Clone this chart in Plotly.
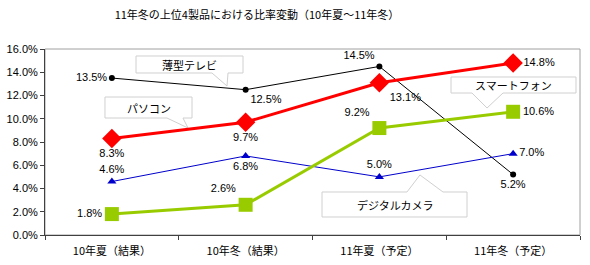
import plotly.graph_objects as go

categories = ["10年夏（結果）", "10年冬（結果）", "11年夏（予定）", "11年冬（予定）"]
tv = [13.5, 12.5, 14.5, 5.2]
pc = [8.3, 9.7, 13.1, 14.8]
camera = [4.6, 6.8, 5.0, 7.0]
smartphone = [1.8, 2.6, 9.2, 10.6]
y_ticks = [0, 2, 4, 6, 8, 10, 12, 14, 16]

W, H = 590, 265
L, R, T, B = 45, 580, 49, 235

def px(x):
    return (x - L) / (R - L)

def py(y):
    return (B - y) / (B - T)

font_main = "Liberation Sans, Arial, Noto Sans CJK JP"
fig = go.Figure()

def add(vals, name, color, width, symbol, size, pos):
    fig.add_trace(go.Scatter(
        x=categories, y=vals, name=name, mode="lines+markers+text",
        line=dict(color=color, width=width),
        marker=dict(symbol=symbol, size=size, color=color),
        text=[f"{v:.1f}%" for v in vals], textposition=pos,
        textfont=dict(size=11, color="#000000", family=font_main),
        hoverinfo="skip", cliponaxis=False))

add(tv, "薄型テレビ", "#000000", 1, "circle", 6,
    ["middle left", "bottom right", "top left", "bottom center"])
add(pc, "パソコン", "#FF0000", 3, "diamond", 15,
    ["bottom center", "bottom center", "bottom right", "middle right"])
add(camera, "デジタルカメラ", "#0000CC", 1, "triangle-up", 8,
    ["top center", "bottom center", "top center", "middle right"])
add(smartphone, "スマートフォン", "#99CC00", 3, "square", 14,
    ["middle left", "top left", "top left", "middle right"])

# callout bubbles: box (x0,y0,x1,y1), tail base on an edge (a,b) and tip
callouts = [
    ("薄型テレビ", (136, 56, 243, 73), "bottom", (212, 228), (227, 86)),
    ("パソコン", (105, 97, 192, 118), "bottom", (167, 183), (188, 128)),
    ("スマートフォン", (451, 77, 576, 93), "bottom", (472, 503), (487, 108)),
    ("デジタルカメラ", (322, 192, 467, 217), "top", (407, 443), (420, 175)),
]
shapes = []
annotations = []
for text, (x0, y0, x1, y1), edge, (a, b), (tx, ty) in callouts:
    if edge == "bottom":
        pts = [(x0, y0), (x1, y0), (x1, y1), (b, y1), (tx, ty), (a, y1), (x0, y1)]
    else:
        pts = [(x0, y0), (a, y0), (tx, ty), (b, y0), (x1, y0), (x1, y1), (x0, y1)]
    path = "M " + " L ".join(f"{px(x):.4f},{py(y):.4f}" for x, y in pts) + " Z"
    shapes.append(dict(type="path", xref="paper", yref="paper", path=path,
                       line=dict(color="#d0d0d0", width=1), fillcolor="white",
                       layer="below"))
    annotations.append(dict(text=text, xref="paper", yref="paper",
                            x=px((x0 + x1) / 2), y=py((y0 + y1) / 2),
                            showarrow=False, xanchor="center", yanchor="middle",
                            font=dict(size=11, color="#000000", family="Noto Sans CJK JP")))

# plot-area border (top/right gray)
shapes.append(dict(type="rect", xref="paper", yref="paper", x0=0, y0=0, x1=1, y1=1,
                   line=dict(color="#a0a0a0", width=1), layer="below"))

fig.update_layout(
    width=W, height=H,
    margin=dict(l=L, r=W - R, t=T, b=H - B),
    paper_bgcolor="white", plot_bgcolor="white",
    showlegend=False,
    title=dict(text="11年冬の上位4製品における比率変動（10年夏～11年冬）",
               x=257 / W, xanchor="center", y=1 - 15 / H, yanchor="middle",
               font=dict(size=11, color="#000000", family="Noto Sans CJK JP")),
    shapes=shapes, annotations=annotations,
    font=dict(family=font_main, size=11, color="#000000"),
)
fig.update_xaxes(type="category", categoryorder="array", categoryarray=categories,
                 range=[-0.5, len(categories) - 0.5], autorange=False,
                 showgrid=False, showline=True, linecolor="#404040",
                 linewidth=1, ticks="outside", tickson="boundaries", ticklen=4,
                 tickcolor="#404040", tickfont=dict(size=11, family="Noto Sans CJK JP"),
                 ticklabelstandoff=6, zeroline=False, automargin=False)
fig.update_yaxes(range=[0, 16], tickvals=y_ticks,
                 ticktext=[f"{v:.1f}%" for v in y_ticks],
                 showgrid=False, showline=True, linecolor="#404040", linewidth=1,
                 ticks="outside", ticklen=4, tickcolor="#404040", zeroline=False,
                 tickfont=dict(size=11, family=font_main), automargin=False)

fig.write_html("out.html")
